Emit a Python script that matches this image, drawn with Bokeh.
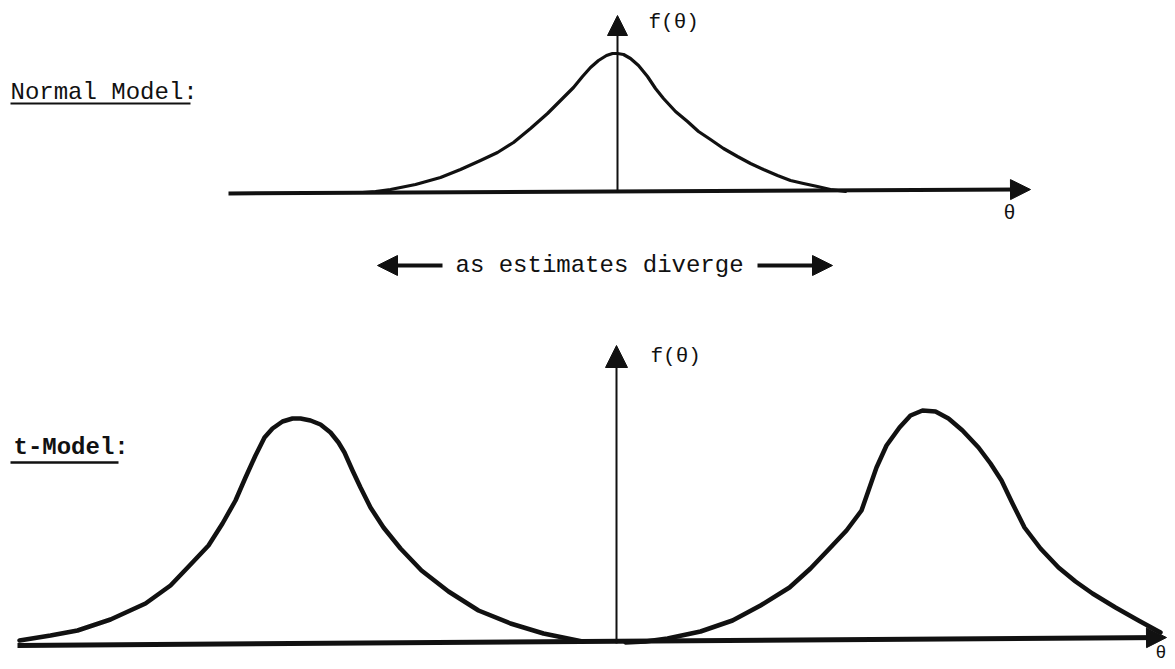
from bokeh.plotting import figure
from bokeh.models import Range1d, Arrow, NormalHead
from bokeh.core.properties import value
from bokeh.embed import file_html
from bokeh.resources import INLINE

# ---- data (image pixel coordinates) ----
normal_x = [362, 375, 390, 415, 440, 460, 480, 497, 513, 530, 547, 560, 573, 582, 590, 598, 606, 612, 617,
            623, 630, 638, 647, 655, 663, 675, 687, 698, 710, 723, 737, 750, 763, 777, 790, 803, 817, 830, 845]
normal_y = [192, 191, 189, 184, 177, 169, 160, 152, 142, 128, 113, 100, 87, 76, 67, 60, 55, 53, 53,
            54, 58, 65, 76, 88, 98, 111, 121, 131, 139, 148, 156, 163, 169, 175, 180, 183, 186, 189, 191]

t_left_x = [19, 50, 77, 110, 145, 170, 191, 208, 222, 235, 245, 255, 264, 272, 282, 292, 300, 310, 320,
            330, 338, 344, 352, 360, 370, 383, 400, 421, 448, 478, 510, 543, 582]
t_left_y = [640, 635, 630, 619, 603, 585, 563, 545, 523, 500, 477, 455, 437, 428, 421, 418, 418, 420, 424,
            432, 442, 452, 470, 487, 507, 527, 548, 570, 591, 610, 623, 633, 641]

t_right_x = [625, 645, 667, 700, 732, 760, 789, 810, 830, 846, 861, 868, 876, 886, 899, 910, 922, 935, 948,
             962, 978, 990, 1001, 1012, 1024, 1040, 1058, 1075, 1092, 1115, 1138, 1160]
t_right_y = [642, 641, 638, 631, 620, 605, 587, 568, 547, 530, 510, 490, 467, 445, 427, 415, 410, 411, 418,
             430, 447, 463, 480, 503, 527, 548, 567, 581, 593, 607, 620, 632]

# axes (start -> tip)
top_base = ([228, 193], [1030, 189])
top_vert = ([617, 192], [617, 15])
bot_base = ([17, 645], [1166, 637])
bot_vert = ([616, 643], [616, 345])
div_left = ([442, 265], [377, 265])
div_right = ([757, 265], [832, 265])

labels = ["Normal Model:", "t-Model:", "as estimates diverge", "f(θ)", "f(θ)", "θ", "θ"]
label_x = [10, 13, 455, 648, 650, 1003, 1155]
label_y = [92, 447, 265, 22, 356, 213, 652]

W, H = 1168, 662
p = figure(width=W, height=H, output_backend="svg", toolbar_location=None,
           x_range=Range1d(0, W), y_range=Range1d(H, 0),
           min_border=0, min_border_left=0, min_border_right=0,
           min_border_top=0, min_border_bottom=0)
p.axis.visible = False
p.grid.visible = False
p.outline_line_color = None
p.background_fill_color = "white"
p.border_fill_color = "white"

ink = "#111111"

# curves
p.line(normal_x, normal_y, line_color=ink, line_width=3.2, line_join="round", line_cap="round")
p.line(t_left_x, t_left_y, line_color=ink, line_width=4.5, line_join="round", line_cap="round")
p.line(t_right_x, t_right_y, line_color=ink, line_width=4.5, line_join="round", line_cap="round")

def arrow(seg, lw, size):
    (x0, y0), (x1, y1) = seg
    p.add_layout(Arrow(x_start=x0, y_start=y0, x_end=x1, y_end=y1,
                       line_color=ink, line_width=lw,
                       end=NormalHead(size=size, fill_color=ink, line_color=ink, line_width=1)))

arrow(top_base, 4, 20)
arrow(top_vert, 2, 20)
arrow(bot_base, 5, 20)
arrow(bot_vert, 2, 22)
arrow(div_left, 4, 20)
arrow(div_right, 4, 20)

# texts
sizes = ["24px", "24px", "24px", "21px", "21px", "20px", "18px"]
weights = ["normal", "bold", "normal", "normal", "normal", "normal", "normal"]
for t, x, y, s, w in zip(labels, label_x, label_y, sizes, weights):
    p.text(x=[x], y=[y], text=[t], text_font=value("Liberation Mono"),
           text_font_size=s, text_font_style=w, text_color=ink,
           text_align="left", text_baseline="middle")

# underlines
p.line([10, 190], [103, 103], line_color=ink, line_width=2)
p.line([10, 118], [462, 462], line_color=ink, line_width=2.5)

open("out.html", "w").write(file_html(p, INLINE))
